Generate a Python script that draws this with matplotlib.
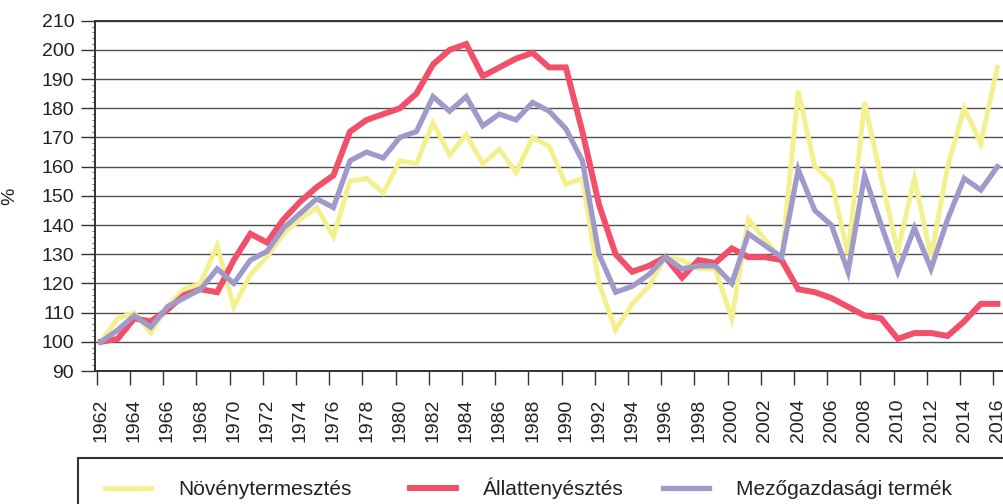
import matplotlib
matplotlib.use("Agg")
import matplotlib.pyplot as plt
from matplotlib.patches import Rectangle
from matplotlib.ticker import FixedLocator, MultipleLocator

plt.rcParams['font.family'] = ['Liberation Sans', 'DejaVu Sans']

years = list(range(1962, 2017))

noveny = [100, 108, 110, 103, 112, 118, 120, 133, 112, 123,
          129, 137, 142, 146, 136, 155, 156, 151, 162, 161,
          175, 164, 171, 161, 166, 158, 170, 167, 154, 156,
          120, 104, 113, 119, 129, 128, 125, 125, 108, 142,
          135, 128, 186, 160, 155, 130, 182, 156, 131, 156,
          129, 160, 180, 168, 194]

allat = [100, 101, 108, 107, 111, 116, 118, 117, 128, 137,
         134, 142, 148, 153, 157, 172, 176, 178, 180, 185,
         195, 200, 202, 191, 194, 197, 199, 194, 194, 172,
         147, 130, 124, 126, 129, 122, 128, 127, 132, 129,
         129, 128, 118, 117, 115, 112, 109, 108, 101, 103,
         103, 102, 107, 113, 113]

mezo = [100, 104, 109, 105, 112, 115, 118, 125, 120, 128,
        131, 139, 144, 149, 146, 162, 165, 163, 170, 172,
        184, 179, 184, 174, 178, 176, 182, 179, 173, 162,
        130, 117, 119, 123, 129, 125, 126, 126, 120, 137,
        133, 129, 159, 145, 140, 124, 157, 140, 124, 139,
        125, 142, 156, 152, 160]

labels = ['Növénytermesztés', 'Állattenyésztés', 'Mezőgazdasági termék']
colors = ['#f4f08e', '#f24f6a', '#a09acb']
y_ticks = list(range(90, 211, 10))
x_label_years = years[::2]

W, H = 1004, 504
fig = plt.figure(figsize=(W / 100, H / 100), dpi=100)
fig.patch.set_facecolor('white')

left_px, right_px, top_px, bot_px = 95, 1010, 20.7, 371
ax = fig.add_axes([left_px / W, 1 - bot_px / H, (right_px - left_px) / W, (bot_px - top_px) / H])

px_per_year = 16.6
x0_px = 101
ax.set_xlim(1962 - (x0_px - left_px) / px_per_year, 1962 + (right_px - x0_px) / px_per_year)
ax.set_ylim(90, 210)

l1, = ax.plot(years, noveny, color=colors[0], lw=3.5, solid_joinstyle='miter', zorder=3)
l2, = ax.plot(years, allat, color=colors[1], lw=4.3, solid_joinstyle='miter', zorder=4)
l3, = ax.plot(years, mezo, color=colors[2], lw=3.8, solid_joinstyle='miter', zorder=5)

ax.yaxis.set_major_locator(FixedLocator(y_ticks))
ax.yaxis.set_minor_locator(MultipleLocator(2))
ax.grid(axis='y', which='major', color='#505050', lw=1.0, zorder=1)
ax.tick_params(axis='y', which='major', direction='out', length=10, width=1.0,
               color='#333333', labelsize=14, pad=5, labelcolor='#222222')
ax.tick_params(axis='y', which='minor', direction='out', length=2.5, width=0.6, color='#555555')

ax.xaxis.set_major_locator(FixedLocator(x_label_years))
ax.set_xticklabels([str(y) for y in x_label_years], rotation=90, fontsize=14, color='#222222')
ax.xaxis.set_minor_locator(FixedLocator([y - 0.25 for y in x_label_years]))
ax.tick_params(axis='x', which='major', length=0, pad=20)
ax.tick_params(axis='x', which='minor', direction='out', length=10, width=1.0, color='#333333')

for s in ['left', 'bottom', 'top']:
    ax.spines[s].set_color('#333333')
    ax.spines[s].set_linewidth(1.4)
ax.spines['right'].set_visible(False)

ax.set_ylabel('%', fontsize=14, color='#222222')
ax.yaxis.set_label_coords((18 - left_px) / (right_px - left_px), 0.5)

# legend box
fig.add_artist(Rectangle((78 / W, -0.2), 1.0, 0.2 + (1 - 458 / H), transform=fig.transFigure,
                         fill=False, ec='#333333', lw=1.5, clip_on=False))

leg_font = {'size': 15}
for handle, lab, xpx in [(l1, labels[0], 105), (l2, labels[1], 410), (l3, labels[2], 663)]:
    fig.legend([handle], [lab], loc='lower left', bbox_to_anchor=(xpx / W, 1 - 499 / H),
               frameon=False, borderpad=0, borderaxespad=0, handlelength=2.2,
               handletextpad=1.3, prop=leg_font, labelcolor='#222222')

fig.savefig('out.png', dpi=100)
